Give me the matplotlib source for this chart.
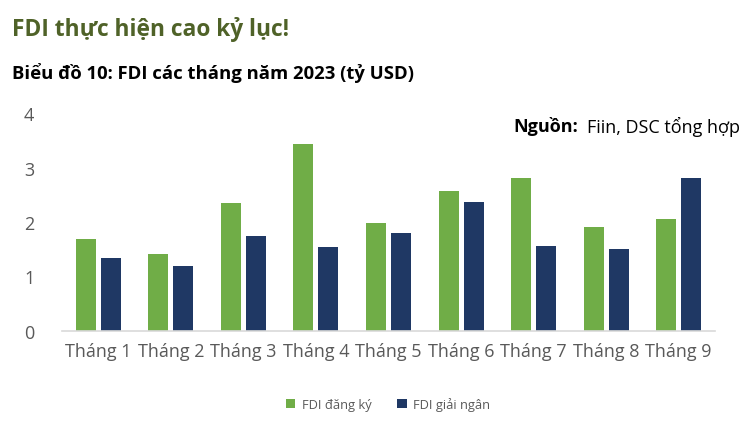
import matplotlib
matplotlib.use("Agg")
import matplotlib.pyplot as plt
import numpy as np

months = ["Tháng 1", "Tháng 2", "Tháng 3", "Tháng 4", "Tháng 5", "Tháng 6", "Tháng 7", "Tháng 8", "Tháng 9"]
fdi_dang_ky = [1.69, 1.41, 2.35, 3.43, 1.98, 2.57, 2.81, 1.91, 2.06]
fdi_giai_ngan = [1.34, 1.19, 1.74, 1.54, 1.80, 2.37, 1.56, 1.50, 2.81]
yticks = [0, 1, 2, 3, 4]

plt.rcParams['font.family'] = ['Open Sans', 'DejaVu Sans']

fig = plt.figure(figsize=(7.51, 4.31), dpi=100)
ax = fig.add_axes([62/751, 1-332/431, (715-62)/751, (332-114)/431])

x = np.arange(len(months))
w = 0.275
gap = 0.035
ax.bar(x - w/2 - gap, fdi_dang_ky, width=w, color="#70AD47", label="FDI đăng ký")
ax.bar(x + w/2 + gap, fdi_giai_ngan, width=w, color="#1F3864", label="FDI giải ngân")

ax.set_xlim(-0.5, len(months) - 0.5)
ax.set_ylim(0, 4)
ax.set_yticks(yticks)
ax.set_xticks(x)
ax.set_xticklabels(months)
for s in ["top", "right", "left"]:
    ax.spines[s].set_visible(False)
ax.spines["bottom"].set_color("#D9D9D9")
ax.spines["bottom"].set_linewidth(1.2)
ax.tick_params(axis="both", length=0, colors="#595959", labelsize=13)
ax.tick_params(axis="y", pad=20)
ax.tick_params(axis="x", pad=8)

fig.text(12/751, 1-30/431, "FDI thực hiện cao kỷ lục!", fontsize=16.4, fontweight="bold",
         color="#4F6228", va="center", ha="left")
fig.text(12/751, 1-73/431, "Biểu đồ 10: FDI các tháng năm 2023 (tỷ USD)", fontsize=13.3,
         fontweight="bold", color="black", va="center", ha="left")

fig.text(740/751, 1-127/431, "Fiin, DSC tổng hợp", fontsize=13, color="black", va="center", ha="right")
fig.text(578/751, 1-127/431, "Nguồn:", fontsize=13, fontweight="bold", color="black", va="center", ha="right")

leg = fig.legend(loc="center", bbox_to_anchor=(388/751, 1-405/431), ncol=2, frameon=False,
                 fontsize=9.3, handlelength=0.75, handleheight=0.75, columnspacing=2.0,
                 handletextpad=0.5)
for t in leg.get_texts():
    t.set_color("#595959")

fig.savefig("out.png", dpi=100)
